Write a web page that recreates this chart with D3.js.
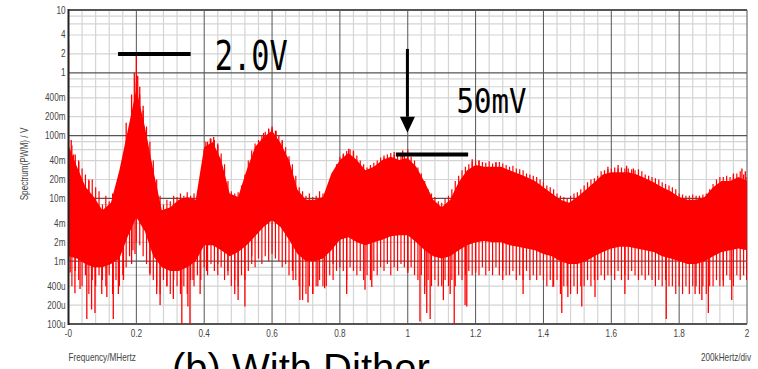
<!DOCTYPE html>
<html>
<head>
<meta charset="utf-8">
<script src="https://cdn.jsdelivr.net/npm/d3@7"></script>
<style>
  body { margin: 0; background: #fff; }
  svg { display: block; }
  .lbl { font-family: "Liberation Sans", Arial, sans-serif; font-size: 10px; fill: #444; }
</style>
</head>
<body>
<svg width="758" height="369"></svg>
<script>
// solid core of the spectrum band, every 25 kHz (MHz / V)
var freq = [0, 0.025, 0.05, 0.075, 0.1, 0.125, 0.15, 0.175, 0.2, 0.225, 0.25, 0.275, 0.3, 0.325, 0.35, 0.375,
  0.4, 0.425, 0.45, 0.475, 0.5, 0.525, 0.55, 0.575, 0.6, 0.625, 0.65, 0.675, 0.7, 0.725, 0.75, 0.775,
  0.8, 0.825, 0.85, 0.875, 0.9, 0.925, 0.95, 0.975, 1.0, 1.025, 1.05, 1.075, 1.1, 1.125, 1.15, 1.175,
  1.2, 1.225, 1.25, 1.275, 1.3, 1.325, 1.35, 1.375, 1.4, 1.425, 1.45, 1.475, 1.5, 1.525, 1.55, 1.575,
  1.6, 1.625, 1.65, 1.675, 1.7, 1.725, 1.75, 1.775, 1.8, 1.825, 1.85, 1.875, 1.9, 1.925, 1.95, 1.975, 2.0];
var upper = [0.07, 0.032, 0.0153, 0.0105, 0.0065, 0.0085, 0.028, 0.123, 0.55, 0.14, 0.028, 0.0065, 0.0072, 0.0095, 0.0105, 0.0095,
  0.066, 0.079, 0.041, 0.012, 0.0105, 0.028, 0.066, 0.095, 0.12, 0.076, 0.041, 0.0137, 0.0095, 0.0095, 0.0105, 0.025,
  0.041, 0.053, 0.041, 0.028, 0.032, 0.041, 0.046, 0.041, 0.044, 0.032, 0.018, 0.0095, 0.0072, 0.0095, 0.018, 0.028,
  0.034, 0.032, 0.032, 0.032, 0.028, 0.025, 0.022, 0.019, 0.015, 0.012, 0.0095, 0.0085, 0.0105, 0.0137, 0.018, 0.024,
  0.026, 0.026, 0.026, 0.024, 0.021, 0.018, 0.015, 0.013, 0.0105, 0.0095, 0.0095, 0.0105, 0.015, 0.019, 0.019, 0.022, 0.019];
var lower = [0.0012, 0.0011, 0.0009, 0.0008, 0.0008, 0.0009, 0.0011, 0.0025, 0.005, 0.003, 0.0012, 0.0008, 0.0007, 0.0007, 0.0008, 0.001,
  0.0018, 0.0018, 0.0015, 0.0012, 0.0014, 0.0018, 0.0025, 0.0035, 0.0045, 0.0035, 0.0022, 0.0013, 0.001, 0.001, 0.0011, 0.0015,
  0.0022, 0.0024, 0.002, 0.0018, 0.002, 0.0022, 0.0025, 0.0026, 0.0026, 0.002, 0.0015, 0.0012, 0.0011, 0.0012, 0.0015, 0.0018,
  0.002, 0.0021, 0.002, 0.002, 0.0018, 0.0017, 0.0016, 0.0015, 0.0013, 0.0012, 0.001, 0.0009, 0.0009, 0.001, 0.0012, 0.0014,
  0.0016, 0.0017, 0.0017, 0.0016, 0.0015, 0.0014, 0.0012, 0.0011, 0.001, 0.0009, 0.0009, 0.001, 0.0012, 0.0014, 0.0015, 0.0016, 0.0015];

// ragged fringe of the trace, every 10 kHz from 0 to 2 MHz: highest and lowest reading
var fringeTop = [
  0.09, 0.07, 0.05, 0.038, 0.03, 0.024, 0.019, 0.02, 0.015, 0.013,
  0.008, 0.011, 0.009, 0.012, 0.01, 0.018, 0.03, 0.06, 0.14, 0.25,
  0.7, 0.45, 0.25, 0.14, 0.08, 0.04, 0.02, 0.011, 0.008, 0.0095,
  0.009, 0.011, 0.0105, 0.012, 0.011, 0.0125, 0.011, 0.012, 0.01, 0.015,
  0.06, 0.08, 0.09, 0.085, 0.075, 0.052, 0.035, 0.019, 0.013, 0.012,
  0.0125, 0.016, 0.024, 0.04, 0.058, 0.075, 0.085, 0.1, 0.115, 0.125,
  0.13, 0.12, 0.1, 0.08, 0.065, 0.047, 0.035, 0.023, 0.015, 0.013,
  0.011, 0.012, 0.0105, 0.011, 0.013, 0.012, 0.013, 0.018, 0.026, 0.035,
  0.046, 0.052, 0.057, 0.06, 0.055, 0.048, 0.04, 0.035, 0.031, 0.034,
  0.037, 0.04, 0.045, 0.048, 0.05, 0.053, 0.049, 0.048, 0.052, 0.05,
  0.05, 0.046, 0.04, 0.031, 0.025, 0.019, 0.014, 0.012, 0.0105, 0.009,
  0.0085, 0.01, 0.011, 0.014, 0.019, 0.023, 0.028, 0.032, 0.035, 0.038,
  0.039, 0.04, 0.038, 0.037, 0.039, 0.036, 0.037, 0.038, 0.036, 0.034,
  0.032, 0.033, 0.03, 0.029, 0.028, 0.025, 0.024, 0.023, 0.022, 0.02,
  0.018, 0.016, 0.015, 0.014, 0.012, 0.011, 0.0105, 0.01, 0.011, 0.012,
  0.0125, 0.014, 0.016, 0.018, 0.02, 0.021, 0.023, 0.027, 0.028, 0.029,
  0.03, 0.031, 0.03, 0.031, 0.03, 0.03, 0.029, 0.028, 0.029, 0.027,
  0.024, 0.023, 0.022, 0.021, 0.02, 0.018, 0.017, 0.016, 0.015, 0.014,
  0.012, 0.0115, 0.011, 0.011, 0.0115, 0.011, 0.011, 0.0115, 0.012, 0.014,
  0.017, 0.02, 0.022, 0.022, 0.023, 0.022, 0.024, 0.025, 0.027, 0.024,
  0.022];
var fringeLow = [
  0.0006, 0.0004, 0.0007, 0.0005, 0.0004, 0.0006, 0.0003, 0.0005, 0.0004, 0.0006,
  0.0005, 0.0004, 0.0006, 0.0003, 0.0005, 0.0004, 0.0006, 0.0008, 0.0012, 0.0015,
  0.002, 0.0018, 0.0012, 0.0009, 0.0006, 0.0005, 0.0004, 0.0003, 0.0005, 0.0004,
  0.0003, 0.0005, 0.0004, 0.0003, 0.0004, 0.0003, 0.0005, 0.0004, 0.0006, 0.0005,
  0.0008, 0.0006, 0.0009, 0.0007, 0.0006, 0.0008, 0.0005, 0.0006, 0.0004, 0.0005,
  0.0004, 0.0006, 0.0005, 0.0007, 0.0009, 0.0008, 0.0011, 0.0009, 0.0012, 0.001,
  0.0013, 0.0011, 0.001, 0.0008, 0.0009, 0.0006, 0.0007, 0.0005, 0.0004, 0.0004,
  0.0003, 0.0004, 0.0003, 0.0004, 0.0005, 0.0004, 0.0004, 0.0006, 0.0005, 0.0007,
  0.0008, 0.0007, 0.0005, 0.0008, 0.0007, 0.0006, 0.0007, 0.0005, 0.0006, 0.0005,
  0.0007, 0.0006, 0.0008, 0.0007, 0.0009, 0.0006, 0.0008, 0.0007, 0.0009, 0.0008,
  0.0007, 0.0008, 0.0006, 0.0005, 0.0006, 0.0004, 0.0005, 0.0004, 0.0005, 0.0004,
  0.0004, 0.0005, 0.0004, 0.0005, 0.0004, 0.0006, 0.0005, 0.0006, 0.0007, 0.0006,
  0.0007, 0.0006, 0.0008, 0.0006, 0.0007, 0.0006, 0.0008, 0.0006, 0.0007, 0.0006,
  0.0006, 0.0007, 0.0005, 0.0006, 0.0005, 0.0007, 0.0005, 0.0006, 0.0005, 0.0006,
  0.0005, 0.0004, 0.0005, 0.0004, 0.0005, 0.0003, 0.0004, 0.0004, 0.0003, 0.0004,
  0.0003, 0.0004, 0.0004, 0.0005, 0.0004, 0.0005, 0.0005, 0.0006, 0.0005, 0.0006,
  0.0006, 0.0005, 0.0007, 0.0005, 0.0006, 0.0005, 0.0007, 0.0006, 0.0005, 0.0006,
  0.0005, 0.0006, 0.0005, 0.0004, 0.0005, 0.0004, 0.0005, 0.0004, 0.0004, 0.0003,
  0.0004, 0.0003, 0.0004, 0.0003, 0.0004, 0.0004, 0.0003, 0.0004, 0.0003, 0.0004,
  0.0004, 0.0005, 0.0004, 0.0005, 0.0006, 0.0005, 0.0004, 0.0006, 0.0005, 0.0006,
  0.0005];

// single peaks above the band [MHz, V]
var peaks = [[0.0, 3.0], [0.008, 0.085], [0.015, 0.05], [0.03, 0.04], [0.06, 0.02], [0.17, 0.16], [0.186, 0.45],
  [0.194, 1.0], [0.2, 2.0], [0.204, 0.9], [0.21, 0.6], [0.22, 0.3], [0.405, 0.08], [0.418, 0.09], [0.428, 0.095],
  [0.44, 0.07], [0.575, 0.11], [0.59, 0.13], [0.6, 0.14], [0.612, 0.12], [0.63, 0.085], [0.81, 0.05], [0.826, 0.062],
  [0.84, 0.058], [0.93, 0.045], [0.96, 0.055], [0.985, 0.058], [1.0, 0.06], [1.19, 0.042], [1.21, 0.04], [1.26, 0.038],
  [1.59, 0.032], [1.62, 0.034], [1.645, 0.033], [1.665, 0.03], [1.96, 0.025], [1.985, 0.03], [1.995, 0.027]];

// deep dips below the band [MHz, V]
var dips = [[0.005, 0.00066], [0.019, 0.00031], [0.034, 0.00036], [0.054, 0.00012], [0.068, 0.00017], [0.078, 0.00015],
  [0.098, 0.0003], [0.113, 0.00027], [0.132, 0.00012], [0.147, 0.0003], [0.162, 0.0005], [0.186, 0.0009], [0.196, 0.0013],
  [0.24, 0.00065], [0.26, 0.0003], [0.27, 0.0002], [0.29, 0.0004], [0.309, 0.00025], [0.334, 0.0001], [0.352, 0.00019],
  [0.358, 0.0001], [0.367, 0.0005], [0.388, 0.0003], [0.407, 0.0007], [0.44, 0.0009], [0.47, 0.0007], [0.49, 0.0003],
  [0.5, 0.00024], [0.52, 0.00019], [0.54, 0.0012], [0.662, 0.0005], [0.682, 0.00024], [0.69, 0.00024], [0.706, 0.00022],
  [0.72, 0.0003], [0.735, 0.0004], [0.755, 0.00037], [0.78, 0.0009], [0.82, 0.0003], [0.874, 0.00035], [0.894, 0.00039],
  [1.0, 0.00065], [1.036, 0.00011], [1.05, 0.0003], [1.056, 0.00015], [1.066, 0.00012], [1.105, 0.00024], [1.125, 0.0003],
  [1.137, 0.0001], [1.169, 0.0002], [1.174, 0.00019], [1.2, 0.00065], [1.28, 0.0005], [1.34, 0.0003], [1.428, 0.00039],
  [1.454, 0.00015], [1.472, 0.00027], [1.513, 0.00019], [1.552, 0.00027], [1.64, 0.0003], [1.762, 0.00012],
  [1.847, 0.0003], [1.867, 0.00024], [1.886, 0.00015], [1.93, 0.0004], [1.955, 0.00024], [1.999, 0.0005]];

var xTicks = [0, 0.2, 0.4, 0.6, 0.8, 1.0, 1.2, 1.4, 1.6, 1.8, 2.0];
var xTickLabels = ["-0", "0.2", "0.4", "0.6", "0.8", "1", "1.2", "1.4", "1.6", "1.8", "2"];
var yTicks = [10, 4, 2, 1, 0.4, 0.2, 0.1, 0.04, 0.02, 0.01, 0.004, 0.002, 0.001, 0.0004, 0.0002, 0.0001];
var yTickLabels = ["10", "4", "2", "1", "400m", "200m", "100m", "40m", "20m", "10m", "4m", "2m", "1m", "400u", "200u", "100u"];

var svg = d3.select("svg");
var x = d3.scaleLinear().domain([0, 2]).range([68.5, 747]);
var y = d3.scaleLog().domain([1e-4, 10]).range([324, 10]);

// minor grid
var minorX = d3.range(0, 51).map(i => i * 0.04).filter(v => Math.abs(v / 0.2 - Math.round(v / 0.2)) > 1e-6);
var minorY = [];
[-4, -3, -2, -1, 0].forEach(e => [2, 4, 6, 8].forEach(k => minorY.push(k * Math.pow(10, e))));

var grid = svg.append("g");
grid.selectAll(".mx").data(minorX).enter().append("line")
  .attr("x1", d => x(d)).attr("x2", d => x(d)).attr("y1", y(10)).attr("y2", y(1e-4))
  .attr("stroke", "#d4d4d4").attr("stroke-width", 1.2);
grid.selectAll(".my").data(minorY).enter().append("line")
  .attr("x1", x(0)).attr("x2", x(2)).attr("y1", d => y(d)).attr("y2", d => y(d))
  .attr("stroke", "#d4d4d4").attr("stroke-width", 1.2);
grid.selectAll(".Mx").data(xTicks).enter().append("line")
  .attr("x1", d => x(d)).attr("x2", d => x(d)).attr("y1", y(10)).attr("y2", y(1e-4))
  .attr("stroke", "#555").attr("stroke-width", 1);
grid.selectAll(".My").data([10, 1, 0.1, 0.01, 0.001, 0.0001]).enter().append("line")
  .attr("x1", x(0)).attr("x2", x(2)).attr("y1", d => y(d)).attr("y2", d => y(d))
  .attr("stroke", "#555").attr("stroke-width", d => (d == 10 || d == 0.0001) ? 2 : 1.2);

// spectrum
svg.append("clipPath").attr("id", "plot").append("rect")
  .attr("x", x(0)).attr("y", y(10)).attr("width", x(2) - x(0)).attr("height", y(1e-4) - y(10));
var spec = svg.append("g").attr("clip-path", "url(#plot)");

var band = freq.map((f, i) => ({f: f, hi: upper[i], lo: lower[i]}));
spec.append("path")
  .attr("fill", "#ff0000")
  .attr("d", d3.area().x(d => x(d.f)).y0(d => y(d.lo)).y1(d => y(d.hi))(band));

var fringe = fringeTop.map((v, i) => ({f: i * 0.01, hi: v, lo: fringeLow[i]}));
spec.selectAll(".fr").data(fringe).enter().append("line")
  .attr("x1", d => x(d.f)).attr("x2", d => x(d.f))
  .attr("y1", d => y(d.lo)).attr("y2", d => y(d.hi))
  .attr("stroke", "#ff0000").attr("stroke-width", 1.2);

var bis = d3.bisector(d => d.f).left;
function bandAt(f, key) {
  var i = Math.max(1, Math.min(band.length - 1, bis(band, f)));
  var a = band[i - 1], b = band[i];
  var t = (f - a.f) / (b.f - a.f);
  return Math.exp(Math.log(a[key]) * (1 - t) + Math.log(b[key]) * t);
}

spec.selectAll(".dip").data(dips).enter().append("line")
  .attr("x1", d => x(d[0])).attr("x2", d => x(d[0]))
  .attr("y1", d => y(d[1])).attr("y2", d => y(bandAt(d[0], "lo")) - 4)
  .attr("stroke", "#ff0000").attr("stroke-width", 1.3);

spec.selectAll(".peak").data(peaks).enter().append("line")
  .attr("x1", d => x(d[0])).attr("x2", d => x(d[0]))
  .attr("y1", d => y(d[1])).attr("y2", d => y(bandAt(d[0], "hi")) + 6)
  .attr("stroke", "#ff0000").attr("stroke-width", 1.3);

// left axis line
svg.append("line").attr("x1", x(0)).attr("x2", x(0)).attr("y1", y(10) - 1).attr("y2", y(1e-4) + 1)
  .attr("stroke", "#222").attr("stroke-width", 2);

// tick labels, squeezed like a narrow face
svg.selectAll(".yl").data(yTicks).enter().append("text").attr("class", "lbl")
  .attr("transform", d => "translate(" + (x(0) - 3) + "," + y(d) + ") scale(0.82,1)")
  .attr("dy", "0.35em").attr("text-anchor", "end").text((d, i) => yTickLabels[i]);
svg.selectAll(".xl").data(xTicks).enter().append("text").attr("class", "lbl")
  .attr("transform", d => "translate(" + x(d) + "," + (y(1e-4) + 13) + ") scale(0.82,1)")
  .attr("text-anchor", "middle").text((d, i) => xTickLabels[i]);

svg.append("text").attr("class", "lbl")
  .attr("transform", "translate(28,164) rotate(-90) scale(0.82,1)")
  .attr("text-anchor", "middle").text("Spectrum(PWM) / V");
svg.append("text").attr("class", "lbl")
  .attr("transform", "translate(" + x(0) + ",361) scale(0.82,1)").text("Frequency/MHertz");
svg.append("text").attr("class", "lbl")
  .attr("transform", "translate(751,361) scale(0.82,1)").attr("text-anchor", "end").text("200kHertz/div");

// annotations
var mono = "'DejaVu Sans Mono', 'Liberation Mono', monospace";
var note = svg.append("g").attr("fill", "#000");
note.append("line").attr("x1", x(0.146)).attr("x2", x(0.36)).attr("y1", y(2)).attr("y2", y(2))
  .attr("stroke", "#000").attr("stroke-width", 4);
note.append("text").attr("x", x(0.431)).attr("y", y(1.1))
  .attr("textLength", 73).attr("lengthAdjust", "spacingAndGlyphs")
  .style("font-family", mono).style("font-size", "41px").text("2.0V");
note.append("line").attr("x1", x(0.999)).attr("x2", x(0.999)).attr("y1", y(2.4)).attr("y2", y(0.2))
  .attr("stroke", "#000").attr("stroke-width", 3);
note.append("path")
  .attr("d", "M" + (x(0.999) - 7.5) + "," + (y(0.111) - 16) + "L" + (x(0.999) + 7.5) + "," + (y(0.111) - 16) + "L" + x(0.999) + "," + y(0.111) + "Z");
note.append("line").attr("x1", x(0.965)).attr("x2", x(1.178)).attr("y1", y(0.05)).attr("y2", y(0.05))
  .attr("stroke", "#000").attr("stroke-width", 4);
note.append("text").attr("x", x(1.144)).attr("y", y(0.229))
  .attr("textLength", 70).attr("lengthAdjust", "spacingAndGlyphs")
  .style("font-family", mono).style("font-size", "34px").text("50mV");

// caption, cut by the bottom edge as in the source figure
svg.append("text").attr("x", 172).attr("y", 382)
  .style("font-family", "'Liberation Sans', Arial, sans-serif").style("font-size", "40px")
  .attr("fill", "#000").text("(b) With Dither");
</script>
</body>
</html>
